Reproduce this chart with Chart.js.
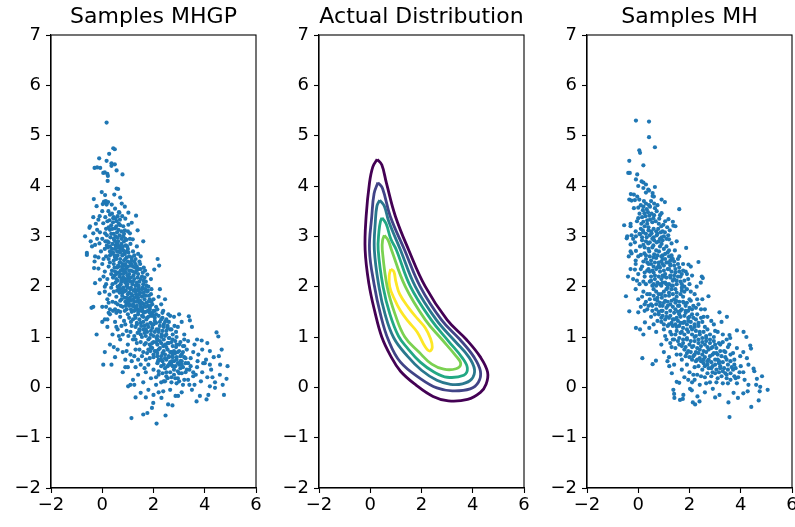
<!DOCTYPE html>
<html>
<head>
<meta charset="utf-8">
<script src="https://cdn.jsdelivr.net/npm/chart.js@4.4.1/dist/chart.umd.min.js"></script>
<style>
  html, body { margin: 0; padding: 0; background: #fff; overflow: hidden; }
  body { width: 795px; height: 527px; position: relative; }
  canvas { position: absolute; top: 0; }
</style>
</head>
<body>
<canvas id="chartMHGP" width="264" height="527" style="left:0px"></canvas>
<canvas id="chartActual" width="264" height="527" style="left:268px"></canvas>
<canvas id="chartMH" width="264" height="527" style="left:536px"></canvas>
<script>
// subplot titles and axis ticks
const titles = ["Samples MHGP", "Actual Distribution", "Samples MH"];
const xTicks = [-2, 0, 2, 4, 6];
const yTicks = [-2, -1, 0, 1, 2, 3, 4, 5, 6, 7];

// samples from the MHGP sampler
const samplesMHGP = [
  [0.17,5.26],[0.43,4.75],[0.49,4.73],[0.27,4.64],[-0.12,4.55],[0.17,4.5],[0.36,4.45],[0.49,4.43],[0.36,4.4],[-0.3,4.36],
  [-0.2,4.37],[-0.08,4.36],[0.56,4.31],[0.1,4.27],[0.2,4.24],[0.04,4.26],[0.79,4.23],[0.22,4.2],
  [0.21,4.1],[0.56,3.95],[0.62,3.94],[-0.02,3.88],[0.11,3.82],[0.47,3.83],[-0.33,3.74],[0.7,3.77],[0.76,3.65],[0.02,3.64],
  [0.11,3.67],[0.17,3.63],[0.37,3.63],[-0.22,3.6],[0.5,3.55],[0.67,3.47],[1.02,3.47],[0.24,3.5],[0.88,3.59],[0.07,3.69],
  [0.14,3.7],[0.23,3.68],
  [0.3,3.43],[-0.35,3.38],[1.32,3.41],[-0.15,3.33],[0.04,3.26],[0.43,3.36],[0.56,3.3],[0.69,3.33],[-0.5,3.17],[-0.35,3.06],
  [-0.67,3.0],[-0.2,3.13],[-0.09,3.08],[0.11,3.06],[0.3,3.13],[0.5,3.16],[0.63,3.13],[0.82,3.2],[1.02,3.23],[1.15,3.27],
  [1.38,3.12],[1.08,3.06],[0.82,3.0],[-0.48,3.2],[0.6,3.4],[0.35,3.22],[0.75,3.1],[0.2,3.3],[0.9,3.35],[0.45,3.05],
  [-0.1,3.4],[0.55,3.2],[0.65,3.48],[0.15,3.15],[1.0,3.1],[0.38,3.45],[-0.25,3.25],
  [0.12,3.38],[0.28,3.32],[0.42,3.28],[0.52,3.35],[0.7,3.22],[0.78,3.4],[0.25,3.18],[0.4,3.15],[0.58,3.08],[0.68,3.02],
  [0.88,3.12],[0.18,3.02],[0.32,2.98],[0.48,2.92],[0.62,2.9],[0.75,2.85],[0.9,2.95],[0.22,2.78],[0.38,2.75],[0.52,2.82],
  [0.67,2.8],[0.82,2.72],[0.97,2.8],[0.3,2.62],[0.42,2.68],[0.58,2.7],[0.72,2.75],[0.88,2.65],[1.02,2.68],[0.6,2.62],
  [0.35,3.05],[0.52,3.0],[0.12,2.9],[0.45,3.38],[0.85,3.05],[0.65,3.25],[0.25,2.88],[0.78,2.78],[0.95,2.58],[0.5,2.58],
  [-0.6,2.67],[-0.28,2.83],[-0.11,2.86],[1.19,2.94],[0.95,2.93],[-0.6,2.63],[-0.28,2.6],[1.6,2.9],[0.0,2.95],[0.1,2.75],
  [0.2,2.9],[0.3,2.8],[0.35,2.65],[0.45,2.95],[0.5,2.75],[0.55,2.6],[0.6,2.85],[0.65,2.7],[0.7,2.55],[0.75,2.95],
  [0.8,2.8],[0.85,2.65],[0.9,2.55],[1.0,2.75],[1.05,2.6],[1.1,2.85],[1.2,2.7],[1.3,2.55],[1.4,2.65],[1.5,2.6],
  [0.15,2.6],[0.25,2.55],[-0.05,2.7],[-0.2,2.95],[0.4,2.85],[0.6,2.97],[0.7,2.68],[0.95,2.7],[1.15,2.52],[1.35,2.8],
  [0.05,2.55],[0.45,2.52],[0.55,2.88],[0.85,2.9],[1.25,2.62],[-0.4,2.8],[0.3,2.7],[0.62,2.78],[0.78,2.62],[1.08,2.95],
  [0.18,2.82],[-0.15,2.58],[0.48,2.62],[0.92,2.82],[1.45,2.5],[0.0,3.5],[-0.3,2.5],[-0.45,2.9],
  [2.16,2.55],[2.22,2.42],[2.03,2.34],[1.67,2.32],[1.76,2.24],[-0.32,2.37],[-0.15,2.36],[-0.28,2.07],[-0.09,2.14],[0.0,2.45],
  [0.1,2.3],[0.2,2.15],[0.25,2.4],[0.35,2.25],[0.4,2.05],[0.45,2.45],[0.5,2.3],[0.55,2.15],[0.6,2.0],[0.65,2.4],
  [0.7,2.25],[0.75,2.1],[0.8,2.45],[0.85,2.3],[0.9,2.15],[0.95,2.02],[1.0,2.4],[1.05,2.25],[1.1,2.1],[1.15,2.45],
  [1.2,2.3],[1.25,2.15],[1.3,2.02],[1.35,2.4],[1.4,2.25],[1.45,2.1],[1.5,2.35],[1.55,2.2],[1.6,2.05],[1.7,2.1],
  [1.8,2.0],[1.9,2.15],[0.3,2.48],[0.58,2.38],[0.72,2.05],[0.88,2.42],[1.02,2.18],[1.18,2.05],[1.28,2.38],[0.42,2.18],
  [0.62,2.28],[0.78,2.35],[0.92,2.28],[1.12,2.32],[1.38,2.18],[0.15,2.05],[0.05,2.2],[0.52,2.08],[0.68,2.48],[0.98,2.12],
  [1.22,2.22],[1.48,2.45],[0.82,2.18],[1.08,2.48],[0.38,2.32],[1.62,2.38],[1.42,2.02],[0.48,2.22],[0.72,2.32],[0.95,2.38],
  [0.55,2.55],[0.7,2.48],[0.85,2.52],[1.0,2.5],[1.15,2.58],[1.3,2.45],[0.48,2.38],[0.62,2.42],[0.78,2.4],[0.92,2.35],
  [1.05,2.32],[1.2,2.4],[1.35,2.32],[0.55,2.25],[0.68,2.2],[0.82,2.25],[0.98,2.22],[1.12,2.18],[1.28,2.28],[1.42,2.35],
  [1.58,2.28],[0.6,2.12],[0.75,2.15],[0.9,2.08],[1.05,2.12],[1.2,2.1],[1.35,2.08],[1.5,2.15],[1.65,2.18],[0.68,2.02],
  [0.82,1.98],[0.98,2.05],[1.12,1.98],[1.28,1.95],[1.42,1.92],[1.58,1.98],[1.72,2.02],[0.78,1.88],[0.92,1.92],[1.05,1.88],
  [1.18,1.82],[1.32,1.85],[1.48,1.88],[1.62,1.88],[1.78,1.92],[0.88,1.78],[1.0,1.75],[1.12,1.72],[1.25,1.7],[1.4,1.78],
  [1.55,1.8],[1.7,1.82],[1.85,1.75],[1.05,1.62],[1.2,1.65],[1.35,1.62],[1.5,1.6],[1.62,1.65],[1.78,1.62],[1.92,1.7],
  [0.95,1.68],[1.45,1.68],[0.72,1.95],[1.25,2.5],[0.9,2.45],[1.62,2.12],[1.38,1.72],[1.1,2.42],[0.85,2.12],[1.3,1.55],
  [-0.42,1.58],[-0.11,1.87],[0.28,1.84],[-0.35,1.6],[0.0,1.6],[0.15,1.6],[0.2,1.75],[0.3,1.55],[0.4,1.7],[0.45,1.9],
  [0.5,1.55],[0.55,1.8],[0.6,1.65],[0.65,1.95],[0.7,1.5],[0.75,1.75],[0.8,1.6],[0.85,1.9],[0.9,1.7],[0.95,1.55],
  [1.0,1.85],[1.05,1.65],[1.1,1.95],[1.15,1.5],[1.2,1.75],[1.25,1.6],[1.3,1.9],[1.35,1.7],[1.4,1.55],[1.45,1.85],
  [1.5,1.65],[1.55,1.95],[1.6,1.5],[1.65,1.75],[1.7,1.6],[1.75,1.9],[1.8,1.7],[1.85,1.55],[1.9,1.85],[1.95,1.65],
  [2.0,1.75],[2.1,1.6],[2.2,1.8],[2.3,1.65],[2.45,1.75],[0.35,1.98],[0.62,1.52],[0.78,1.82],[0.92,1.62],[1.08,1.78],
  [1.22,1.92],[1.32,1.58],[1.48,1.72],[1.62,1.82],[1.78,1.52],[0.52,1.68],[0.68,1.88],[0.98,1.98],[1.18,1.62],[1.42,1.98],
  [1.58,1.58],[1.72,1.68],[0.88,1.52],[1.02,1.7],[1.28,1.78],[0.82,1.95],[0.72,1.62],[1.12,1.55],[1.38,1.82],[1.52,1.52],
  [1.68,1.95],[1.88,1.62],[0.58,1.92],[0.42,1.52],[1.92,1.95],[2.05,1.52],[2.25,1.95],[0.25,1.68],[0.1,1.9],[1.15,1.85],
  [0.95,1.78],[1.55,1.68],[0.7,1.72],[2.38,1.52],[1.82,1.82],[0.1,2.0],
  [1.25,1.52],[1.4,1.5],[1.55,1.55],[1.7,1.5],[1.85,1.58],[2.0,1.52],[2.15,1.55],[1.3,1.38],[1.45,1.35],[1.6,1.4],
  [1.75,1.38],[1.9,1.42],[2.05,1.38],[2.2,1.42],[2.35,1.38],[1.35,1.25],[1.5,1.28],[1.65,1.22],[1.8,1.2],[1.95,1.25],
  [2.1,1.28],[2.25,1.3],[2.4,1.25],[2.55,1.22],[1.45,1.12],[1.6,1.15],[1.75,1.1],[1.9,1.12],[2.05,1.1],[2.2,1.15],
  [2.35,1.12],[2.5,1.12],[2.65,1.15],[1.55,1.0],[1.7,1.02],[1.85,0.98],[2.0,1.02],[2.15,0.95],[2.3,1.0],[2.45,1.02],
  [2.6,0.98],[2.75,0.95],[2.9,1.0],[1.7,0.88],[1.85,0.85],[2.0,0.9],[2.15,0.85],[2.3,0.88],[2.45,0.85],[2.6,0.88],
  [2.75,0.82],[2.9,0.85],[3.05,0.9],[1.8,0.75],[1.95,0.78],[2.1,0.72],[2.25,0.78],[2.4,0.72],[2.55,0.75],[2.7,0.7],
  [2.85,0.68],[3.0,0.72],[3.15,0.7],[2.0,0.65],[2.15,0.68],[2.3,0.62],[2.45,0.65],[2.6,0.62],[2.75,0.65],[2.9,0.6],
  [3.05,0.62],[3.2,0.6],[2.2,0.55],[2.35,0.52],[2.5,0.55],[2.65,0.5],[2.8,0.52],[2.95,0.48],[3.1,0.52],[3.25,0.48],
  [2.4,0.45],[2.55,0.42],[2.7,0.45],[2.85,0.42],[3.0,0.45],[3.15,0.4],[1.95,1.48],[2.5,1.35],[2.82,1.22],[3.2,0.82],
  [-0.22,1.05],[3.38,1.41],[3.42,1.33],[0.1,1.35],[0.2,1.2],[0.3,1.45],[0.4,1.05],[0.5,1.3],[0.6,1.15],[0.7,1.4],
  [0.8,1.05],[0.9,1.25],[1.0,1.45],[1.1,1.1],[1.2,1.35],[1.3,1.2],[1.4,1.45],[1.5,1.05],[1.6,1.3],[1.7,1.15],
  [1.8,1.4],[1.9,1.05],[2.0,1.25],[2.1,1.45],[2.2,1.1],[2.3,1.35],[2.4,1.2],[2.5,1.05],[2.6,1.3],[2.7,1.15],
  [2.8,1.4],[2.95,1.2],[3.1,1.3],[3.2,1.05],[0.85,1.32],[0.95,1.12],[1.05,1.38],[1.15,1.22],[1.25,1.02],[1.35,1.28],
  [1.45,1.15],[1.55,1.42],[1.65,1.08],[1.75,1.25],[1.85,1.48],[1.95,1.18],[2.05,1.32],[2.15,1.02],[2.25,1.22],[2.35,1.48],
  [2.45,1.3],[2.55,1.18],[2.65,1.42],[2.75,1.05],[0.55,1.48],[0.75,1.22],[1.62,1.48],[1.88,1.28],[2.12,1.15],[2.32,1.05],
  [2.58,1.45],[1.38,1.08],[1.02,1.02],[0.65,1.02],[0.25,1.48],[0.0,1.3],[3.0,1.45],[2.88,1.1],[1.72,1.35],[1.52,1.22],
  [1.98,1.42],[1.28,1.42],[1.12,1.3],[0.2,1.35],[0.55,1.2],[1.3,0.95],[3.5,1.2],[3.7,0.95],
  [3.88,0.93],[4.46,1.09],[4.53,1.01],[4.66,0.75],[0.1,0.7],[0.3,0.85],[0.5,0.6],[0.7,0.95],[0.8,0.7],[0.9,0.55],
  [1.0,0.85],[1.1,0.65],[1.2,0.95],[1.3,0.75],[1.4,0.55],[1.5,0.9],[1.6,0.7],[1.7,0.55],[1.8,0.95],[1.9,0.8],
  [2.0,0.6],[2.1,0.9],[2.2,0.75],[2.3,0.55],[2.4,0.95],[2.5,0.8],[2.6,0.6],[2.7,0.9],[2.8,0.72],[2.9,0.55],
  [3.0,0.85],[3.1,0.65],[3.2,0.95],[3.3,0.75],[3.45,0.58],[3.6,0.85],[3.75,0.65],[3.9,0.75],[4.05,0.55],[4.2,0.72],
  [4.35,0.6],[4.55,0.62],[1.65,0.85],[1.75,0.68],[1.85,0.58],[1.95,0.88],[2.05,0.72],[2.15,0.62],[2.25,0.92],[2.35,0.68],
  [2.45,0.58],[2.55,0.88],[2.65,0.7],[2.75,0.6],[2.85,0.92],[2.95,0.7],[3.05,0.52],[1.55,0.62],[1.35,0.88],[1.15,0.52],
  [2.12,0.98],[2.62,0.98],[3.15,0.82],[3.35,0.92],[3.55,0.7],[0.6,0.75],[0.95,0.72],[1.25,0.62],[3.72,0.52],[4.1,0.88],
  [2.38,0.82],[2.88,0.8],[1.45,0.75],[1.88,0.72],[2.18,0.52],[2.72,0.52],[3.25,0.58],[0.45,0.8],[0.9,0.4],
  [0.04,0.45],[0.36,0.45],[3.94,0.48],[4.0,0.48],[4.89,0.42],[4.59,0.25],[4.85,0.17],[0.8,0.3],[1.0,0.4],[1.2,0.15],
  [1.3,0.4],[1.4,0.25],[1.5,0.45],[1.6,0.1],[1.7,0.3],[1.8,0.45],[1.9,0.18],[2.0,0.35],[2.1,0.05],[2.2,0.25],
  [2.3,0.42],[2.4,0.12],[2.5,0.3],[2.6,0.45],[2.7,0.2],[2.8,0.35],[2.9,0.08],[3.0,0.28],[3.1,0.45],[3.2,0.15],
  [3.3,0.35],[3.4,0.05],[3.55,0.22],[3.7,0.4],[3.85,0.12],[4.1,0.2],[4.25,0.35],[4.4,0.1],[4.7,0.05],[2.15,0.48],
  [2.45,0.38],[2.75,0.42],[3.05,0.38],[3.35,0.48],[2.55,0.18],[2.95,0.18],[1.65,0.38],[3.6,0.05],[4.2,0.02],[1.1,0.05],
  [1.01,0.02],[1.25,0.05],[4.2,0.45],[4.6,0.45],[3.9,0.3],[4.3,0.2],
  [2.2,0.32],[2.35,0.28],[2.5,0.22],[2.65,0.3],[2.8,0.25],[2.95,0.32],[3.1,0.28],[3.25,0.3],[3.4,0.35],[2.45,0.12],
  [2.7,0.1],[2.85,0.18],[3.0,0.12],[3.15,0.05],[3.35,0.15],[3.55,0.3],[2.1,0.2],[2.3,0.1],[3.45,0.42],[3.65,0.25],
  [1.14,-0.61],[1.6,-0.54],[1.76,-0.51],[2.12,-0.72],[2.47,-0.56],[1.94,-0.41],[1.99,-0.31],[2.57,-0.34],[2.74,-0.36],[2.31,-0.21],
  [2.38,-0.08],[2.86,-0.17],[2.96,-0.17],[1.5,-0.11],[3.68,-0.28],[4.07,-0.24],[4.14,-0.15],[3.81,-0.17],[4.75,-0.15],[4.4,-0.01],
  [1.8,-0.05],[2.0,-0.15],[2.65,-0.05],[3.1,-0.1],[3.5,-0.05],[1.3,-0.2],[1.7,-0.2],[2.2,-0.1]
];

// samples from the plain MH sampler
const samplesMH = [
  [-0.09,5.3],[0.42,5.28],[0.42,4.97],[0.65,4.77],[0.07,4.66],[0.04,4.71],[-0.35,4.5],[0.2,4.41],[-0.39,4.26],[-0.33,4.26],
  [-0.04,4.23],[-0.09,4.13],[0.13,4.09],[0.2,4.07],[0.3,4.03],[0.0,4.0],[0.65,3.98],[0.39,3.93],[0.2,3.96],[0.42,3.91],
  [-0.29,3.84],[-0.17,3.83],[0.3,3.87],[0.56,3.86],[0.61,3.79],[-0.04,3.79],[0.04,3.73],[-0.35,3.73],[-0.26,3.71],[0.91,3.73],
  [1.04,3.68],[1.6,3.54],[-0.13,3.72],[0.56,3.8],[0.1,3.62],[0.3,3.65],[0.5,3.7],[0.75,3.62],
  [-0.17,3.56],[0.0,3.57],[0.2,3.59],[0.33,3.54],[0.46,3.59],[0.65,3.56],[0.24,3.46],[0.43,3.41],[0.59,3.36],[0.85,3.42],
  [0.91,3.46],[1.18,3.34],[1.35,3.29],[-0.55,3.22],[-0.3,3.25],[-0.3,3.2],[0.0,3.36],[0.2,3.29],[0.35,3.25],[0.46,3.33],
  [0.98,3.23],[1.13,3.18],[1.23,3.12],[1.37,3.21],[1.45,3.2],[-0.43,3.0],[-0.45,2.96],[-0.26,3.02],[-0.09,3.0],[0.07,3.04],
  [0.2,3.08],[0.33,2.98],[0.52,3.06],[0.72,3.02],[0.91,2.98],[1.04,3.08],[1.17,3.02],[0.6,3.15],[0.8,3.25],[0.1,3.15],
  [-0.1,3.1],[0.4,3.12],
  [0.05,3.45],[0.15,3.38],[0.28,3.4],[0.38,3.48],[0.52,3.45],[0.62,3.42],[0.72,3.5],[0.12,3.25],[0.25,3.2],[0.4,3.18],
  [0.55,3.28],[0.68,3.3],[0.78,3.15],[0.9,3.2],[0.05,3.05],[0.18,3.12],[0.3,3.05],[0.45,3.02],[0.6,2.98],[0.75,3.05],
  [0.88,3.08],[1.0,3.0],[0.15,2.98],[0.3,2.9],[0.45,2.88],[0.62,2.92],[0.8,2.9],[0.95,2.92],[1.1,2.95],[0.35,3.32],
  [0.18,3.52],[0.42,3.62],[0.62,3.65],[0.82,3.35],[0.22,3.7],[1.05,3.3],[0.5,3.1],[0.7,3.1],[-0.05,3.3],[0.95,3.1],
  [1.87,2.77],[-0.37,2.6],[-0.3,2.84],[-0.13,2.88],[0.07,2.8],[0.2,2.83],[0.39,2.86],[0.59,2.82],[0.72,2.88],[0.91,2.85],
  [1.1,2.8],[1.3,2.86],[-0.26,2.66],[-0.09,2.71],[0.1,2.63],[0.24,2.66],[0.43,2.7],[0.62,2.64],[0.81,2.7],[0.95,2.62],
  [1.15,2.68],[1.3,2.62],[1.43,2.72],[1.6,2.6],[0.3,2.55],[0.5,2.52],[0.7,2.57],[0.9,2.5],[1.05,2.55],[1.25,2.52],
  [-0.1,2.52],[0.15,2.92],[0.55,2.95],[0.85,2.95],[1.2,2.94],[1.5,2.9],[-0.2,2.95],[0.0,2.6],[-0.3,2.7],
  [0.25,2.78],[0.4,2.75],[0.55,2.78],[0.7,2.72],[0.85,2.8],[1.0,2.75],[1.2,2.72],[0.3,2.62],[0.45,2.6],[0.6,2.58],
  [0.75,2.62],[0.9,2.6],[1.05,2.65],[1.2,2.6],[1.35,2.55],[0.35,2.48],[0.5,2.45],[0.65,2.48],[0.8,2.42],[0.95,2.45],
  [1.1,2.48],[1.25,2.45],[1.4,2.5],[0.4,2.35],[0.55,2.32],[0.7,2.35],[0.85,2.38],[1.0,2.32],[1.15,2.35],[1.3,2.3],
  [1.45,2.35],[1.6,2.3],[0.5,2.2],[0.65,2.15],[0.8,2.2],[0.95,2.22],[1.1,2.18],[1.25,2.22],[1.4,2.15],[1.55,2.2],
  [1.7,2.25],[0.6,2.05],[0.75,2.08],[0.9,2.02],[1.05,2.08],[1.2,2.05],[1.35,2.02],[1.5,2.05],[1.65,2.1],[1.8,2.0],
  [0.2,2.5],[0.1,2.35],[0.95,2.55],[1.55,2.55],[1.75,2.45],[0.25,2.28],[1.9,2.25],[2.0,2.05],[0.45,2.1],[1.3,2.58],
  [2.35,2.49],[2.48,2.2],[2.28,2.0],[-0.3,2.35],[-0.2,2.15],[-0.1,2.45],[0.0,2.25],[0.05,2.05],[0.15,2.4],[0.25,2.2],
  [0.3,2.05],[0.4,2.45],[0.45,2.3],[0.5,2.12],[0.6,2.4],[0.65,2.22],[0.7,2.02],[0.8,2.48],[0.85,2.3],[0.9,2.15],
  [1.0,2.42],[1.05,2.25],[1.1,2.05],[1.2,2.35],[1.25,2.18],[1.3,2.02],[1.4,2.42],[1.45,2.28],[1.5,2.12],[1.6,2.38],
  [1.65,2.2],[1.7,2.05],[1.85,2.3],[1.95,2.15],[2.05,2.4],[2.1,2.22],[0.35,2.32],[0.55,2.02],[0.75,2.38],[0.95,2.08],
  [1.15,2.48],[1.35,2.12],[1.55,2.45],[1.75,2.32],[0.2,2.1],[1.0,2.2],[0.6,2.28],[1.4,2.22],[-0.05,2.12],[1.8,2.12],
  [0.85,2.05],[1.25,2.42],[-0.13,2.34],[1.96,2.44],[2.52,2.17],[2.44,2.08],[-0.4,2.2],
  [-0.48,1.81],[-0.35,1.51],[2.74,1.81],[3.17,1.49],[-0.1,1.95],[0.0,1.75],[0.1,1.6],[0.2,1.9],[0.3,1.7],[0.35,1.55],
  [0.45,1.85],[0.5,1.65],[0.6,1.95],[0.65,1.75],[0.7,1.55],[0.8,1.85],[0.85,1.68],[0.9,1.52],[1.0,1.9],[1.05,1.72],
  [1.1,1.58],[1.2,1.82],[1.25,1.65],[1.3,1.95],[1.4,1.75],[1.45,1.55],[1.5,1.88],[1.6,1.7],[1.65,1.52],[1.75,1.8],
  [1.85,1.62],[1.9,1.95],[2.0,1.75],[2.1,1.55],[2.2,1.85],[2.35,1.65],[2.5,1.75],[2.6,1.55],[0.25,1.52],[0.55,1.52],
  [0.75,1.72],[0.95,1.62],[1.15,1.98],[1.35,1.6],[1.55,1.62],[1.7,1.92],[1.95,1.52],[2.05,1.9],[0.4,1.62],[0.15,1.8],
  [1.15,1.7],[0.7,1.9],[1.78,1.68],[2.25,1.58],[1.48,1.72],[0.92,1.78],
  [0.6,1.82],[0.75,1.78],[0.9,1.85],[1.05,1.82],[1.2,1.88],[1.35,1.85],[1.5,1.8],[1.65,1.85],[1.8,1.9],[0.7,1.65],
  [0.85,1.62],[1.0,1.68],[1.15,1.62],[1.3,1.72],[1.45,1.68],[1.6,1.62],[1.75,1.7],[1.9,1.68],[2.05,1.72],[0.8,1.5],
  [0.95,1.52],[1.1,1.48],[1.25,1.52],[1.4,1.48],[1.55,1.5],[1.7,1.55],[1.85,1.52],[2.0,1.58],[2.15,1.62],[0.9,1.38],
  [1.05,1.35],[1.2,1.38],[1.35,1.35],[1.5,1.38],[1.65,1.4],[1.8,1.42],[1.95,1.38],[2.1,1.45],[2.25,1.35],[1.0,1.25],
  [1.15,1.22],[1.3,1.28],[1.45,1.25],[1.6,1.22],[1.75,1.28],[1.9,1.25],[2.05,1.3],[2.2,1.2],[2.35,1.28],[0.55,1.62],
  [0.45,1.75],[1.1,1.95],[1.45,1.95],[2.3,1.75],[2.45,1.55],[0.65,1.45],[0.35,1.85],[2.55,1.4],[1.7,1.98],[0.25,1.65],
  [-0.09,1.18],[0.07,1.15],[0.0,1.49],[0.26,1.29],[0.43,1.18],[3.46,1.4],[3.85,1.13],[4.11,1.1],[4.22,1.0],[3.56,1.04],
  [0.2,1.05],[0.5,1.4],[0.6,1.25],[0.7,1.1],[0.8,1.45],[0.9,1.3],[1.0,1.15],[1.1,1.4],[1.2,1.25],[1.3,1.05],
  [1.4,1.35],[1.5,1.2],[1.6,1.45],[1.7,1.1],[1.8,1.3],[1.9,1.15],[2.0,1.4],[2.1,1.05],[2.2,1.25],[2.3,1.45],
  [2.4,1.1],[2.5,1.3],[2.6,1.2],[2.7,1.4],[2.8,1.05],[2.95,1.25],[3.1,1.1],[3.25,1.3],[1.05,1.02],[1.25,1.42],
  [1.45,1.05],[1.65,1.28],[1.85,1.48],[2.05,1.2],[2.25,1.02],[2.45,1.38],[2.65,1.02],[1.75,1.18],[1.95,1.32],[2.15,1.38],
  [1.35,1.22],[0.95,1.42],[2.35,1.22],[1.55,1.32],[2.85,1.32],[0.75,1.32],[3.59,0.98],
  [1.5,1.12],[1.65,1.08],[1.8,1.05],[1.95,1.1],[2.1,1.15],[2.25,1.12],[2.4,1.05],[2.55,1.1],[2.7,1.15],[1.6,0.98],
  [1.75,0.95],[1.9,0.98],[2.05,0.92],[2.2,1.0],[2.35,0.95],[2.5,0.98],[2.65,0.92],[2.8,0.88],[2.95,1.0],[1.7,0.82],
  [1.85,0.8],[2.0,0.85],[2.15,0.82],[2.3,0.78],[2.45,0.82],[2.6,0.85],[2.75,0.75],[2.9,0.8],[3.05,0.78],[3.2,0.85],
  [1.9,0.68],[2.05,0.7],[2.2,0.65],[2.35,0.68],[2.5,0.65],[2.65,0.7],[2.8,0.62],[2.95,0.68],[3.1,0.65],[3.25,0.62],
  [3.4,0.7],[2.1,0.55],[2.25,0.52],[2.4,0.58],[2.55,0.55],[2.7,0.52],[2.85,0.5],[3.0,0.55],[3.15,0.52],[3.3,0.5],
  [3.45,0.55],[3.6,0.65],[1.35,0.95],[1.45,0.78],[1.25,1.1],[3.0,1.12],[3.3,1.05],[3.55,0.85],[3.75,0.55],[1.65,0.65],
  [0.16,0.58],[3.85,0.78],[3.98,0.62],[4.24,0.58],[4.37,0.83],[4.4,0.77],[0.69,0.53],[1.14,0.52],[0.9,0.85],[1.0,0.7],
  [1.1,0.95],[1.2,0.6],[1.3,0.8],[1.4,0.95],[1.5,0.65],[1.6,0.85],[1.7,0.55],[1.8,0.75],[1.9,0.95],[2.0,0.6],
  [2.1,0.8],[2.2,0.92],[2.3,0.55],[2.4,0.75],[2.5,0.9],[2.6,0.6],[2.7,0.8],[2.8,0.95],[2.9,0.65],[3.0,0.85],
  [3.1,0.55],[3.2,0.72],[3.3,0.9],[3.4,0.6],[3.5,0.8],[3.6,0.52],[3.7,0.68],[1.55,0.92],[1.75,0.88],[1.95,0.72],
  [2.15,0.62],[2.35,0.88],[2.55,0.72],[2.75,0.55],[2.95,0.92],[3.15,0.88],[3.35,0.72],[1.25,0.88],[2.45,0.52],[2.65,0.98],
  [3.05,0.68],[2.25,0.7],[1.85,0.62],[2.85,0.78],[3.45,0.95],[4.1,0.7],
  [0.56,0.46],[1.21,0.42],[1.31,0.28],[1.6,0.09],[4.5,0.37],[4.53,0.32],[4.83,0.22],[4.63,0.17],[4.76,0.01],[1.5,0.11],
  [1.4,0.45],[1.7,0.35],[1.8,0.2],[1.9,0.45],[2.0,0.3],[2.1,0.1],[2.2,0.4],[2.3,0.25],[2.4,0.05],[2.5,0.35],
  [2.6,0.2],[2.7,0.45],[2.8,0.1],[2.9,0.3],[3.0,0.45],[3.1,0.18],[3.2,0.38],[3.3,0.08],[3.4,0.28],[3.5,0.45],
  [3.6,0.15],[3.7,0.35],[3.8,0.18],[3.9,0.2],[4.0,0.42],[4.15,0.15],[4.3,0.05],[2.15,0.25],[2.55,0.48],[2.85,0.38],
  [3.15,0.48],[3.45,0.18],[3.75,0.45],[2.35,0.42],[1.95,0.15],[3.25,0.22],
  [2.6,0.42],[2.75,0.38],[2.9,0.42],[3.05,0.35],[3.2,0.42],[3.35,0.38],[3.5,0.35],[3.65,0.4],[3.8,0.38],[2.7,0.28],
  [2.85,0.22],[3.0,0.28],[3.15,0.3],[3.3,0.32],[3.45,0.25],[3.6,0.28],[3.75,0.22],[3.95,0.3],[2.45,0.22],[2.2,0.15],
  [2.65,0.08],[3.05,0.1],[3.5,0.08],[3.85,0.08],[4.1,0.3],[4.3,0.45],[4.6,0.05],
  [5.05,-0.05],[4.74,-0.08],[4.7,-0.26],[4.41,-0.39],[4.27,-0.08],[3.89,-0.21],[3.72,-0.11],[3.52,-0.3],[3.56,-0.59],[3.17,-0.15],
  [2.91,-0.03],[2.39,-0.28],[2.31,-0.18],[2.13,-0.3],[2.22,-0.34],[2.02,-0.03],[2.09,-0.06],[1.76,-0.15],[1.74,-0.23],[1.63,-0.25],
  [1.41,-0.21],[1.37,-0.05],[1.4,-0.13],[2.6,-0.1],[3.0,-0.2],[4.1,-0.12]
];

// contour lines of the true density, one closed path per level (outer -> inner)
const contourLevel1 = [[0.27,4.53],[0.45,4.42],[0.63,4.06],[0.98,3.4],[1.5,2.73],[2.15,2.0],[3.0,1.34],[3.75,0.95],[4.3,0.6],
  [4.58,0.3],[4.52,0.06],[4.3,-0.1],[3.8,-0.24],[3.05,-0.27],[2.45,-0.18],[1.8,0.04],[1.18,0.32],[0.8,0.62],[0.45,1.0],
  [0.18,1.5],[-0.05,2.05],[-0.2,2.73],[-0.16,3.4],[-0.03,4.06],[0.1,4.38],[0.27,4.53]];
const contourLevel2 = [[0.3,4.07],[0.48,3.95],[0.78,3.4],[1.34,2.73],[1.95,2.0],[2.78,1.34],[3.5,0.95],[4.05,0.6],[4.3,0.32],
  [4.22,0.1],[3.9,-0.03],[3.2,-0.07],[2.6,-0.01],[2.0,0.16],[1.18,0.5],[0.7,0.95],[0.4,1.45],[0.15,2.05],[-0.03,2.73],
  [0.06,3.4],[0.15,3.85],[0.3,4.07]];
const contourLevel3 = [[0.37,3.72],[0.55,3.6],[0.72,3.3],[1.18,2.73],[1.76,2.0],[2.58,1.34],[3.3,0.92],[3.85,0.6],[4.07,0.35],
  [3.95,0.16],[3.6,0.07],[3.13,0.06],[2.6,0.14],[2.0,0.34],[1.45,0.62],[0.92,0.98],[0.58,1.45],[0.34,2.0],[0.16,2.73],
  [0.2,3.3],[0.26,3.6],[0.37,3.72]];
const contourLevel4 = [[0.46,3.37],[0.62,3.25],[0.8,2.95],[1.02,2.73],[1.57,2.0],[2.38,1.34],[3.05,0.92],[3.6,0.58],[3.79,0.38],
  [3.65,0.24],[3.0,0.2],[2.5,0.3],[1.95,0.5],[1.45,0.78],[1.1,1.02],[0.77,1.45],[0.5,2.0],[0.31,2.73],[0.34,3.1],
  [0.4,3.3],[0.46,3.37]];
const contourLevel5 = [[0.55,3.02],[0.7,2.92],[0.83,2.73],[1.37,2.0],[2.15,1.34],[2.8,0.95],[3.35,0.62],[3.53,0.47],[3.35,0.37],
  [2.87,0.36],[2.4,0.46],[1.9,0.7],[1.35,1.0],[0.97,1.45],[0.66,2.0],[0.47,2.73],[0.48,2.92],[0.55,3.02]];
const contourLevel6 = [[0.8,2.35],[0.92,2.3],[1.0,2.1],[1.15,1.85],[1.5,1.58],[1.85,1.36],[2.15,1.18],[2.35,0.97],[2.42,0.8],
  [2.32,0.72],[2.15,0.8],[1.83,1.1],[1.5,1.3],[1.18,1.52],[0.92,1.78],[0.76,2.0],[0.74,2.22],[0.8,2.35]];
const contourLevels = [contourLevel1, contourLevel2, contourLevel3, contourLevel4, contourLevel5, contourLevel6];
const contourColors = ["#440154", "#414487", "#2a788e", "#22a884", "#7ad151", "#fde725"];

const FONT = "'DejaVu Sans', 'Liberation Sans', sans-serif";
const toXY = arr => arr.map(p => ({ x: p[0], y: p[1] }));
const fmt = v => (v < 0 ? "\u2212" + Math.abs(v) : String(v));

// draws the top and right spines like matplotlib
const framePlugin = {
  id: "frame",
  afterDraw(chart) {
    const a = chart.chartArea, c = chart.ctx;
    c.save();
    c.strokeStyle = "#000";
    c.lineWidth = 1.1;
    c.strokeRect(a.left, a.top, a.right - a.left, a.bottom - a.top);
    c.restore();
  }
};

function makeOptions(title) {
  return {
    responsive: false,
    animation: false,
    devicePixelRatio: 1,
    layout: { padding: { left: 0, right: 8, top: 0, bottom: 0 } },
    plugins: {
      legend: { display: false },
      tooltip: { enabled: false },
      title: {
        display: true,
        text: title,
        fullSize: false,
        color: "#000",
        font: { family: FONT, size: 22, weight: "normal", lineHeight: 1.2 },
        padding: { top: 4, bottom: 4.6 }
      }
    },
    scales: {
      x: {
        type: "linear",
        min: xTicks[0], max: xTicks[xTicks.length - 1],
        afterBuildTicks: s => { s.ticks = xTicks.map(v => ({ value: v })); },
        afterFit: s => { s.height = 39; },
        ticks: { color: "#000", font: { family: FONT, size: 18 }, padding: 2, maxRotation: 0, callback: fmt },
        grid: { drawOnChartArea: false, color: "#000", tickLength: 5, tickWidth: 1.1 },
        border: { color: "#000", width: 1.1 }
      },
      y: {
        type: "linear",
        min: yTicks[0], max: yTicks[yTicks.length - 1],
        afterBuildTicks: s => { s.ticks = yTicks.map(v => ({ value: v })); },
        afterFit: s => { s.width = 51; },
        ticks: { color: "#000", font: { family: FONT, size: 18 }, padding: 5, callback: fmt },
        grid: { drawOnChartArea: false, color: "#000", tickLength: 5, tickWidth: 1.1 },
        border: { color: "#000", width: 1.1 }
      }
    }
  };
}

function scatterSet(points) {
  return {
    data: toXY(points),
    backgroundColor: "#1f77b4",
    borderWidth: 0,
    pointRadius: 2.1,
    pointHoverRadius: 2.1
  };
}

new Chart(document.getElementById("chartMHGP"), {
  type: "scatter",
  data: { datasets: [scatterSet(samplesMHGP)] },
  options: makeOptions(titles[0]),
  plugins: [framePlugin]
});

new Chart(document.getElementById("chartActual"), {
  type: "scatter",
  data: {
    datasets: contourLevels.map((lvl, i) => ({
      data: toXY(lvl),
      showLine: true,
      borderColor: contourColors[i],
      borderWidth: 2.8,
      tension: 0.4,
      pointRadius: 0,
      fill: false
    }))
  },
  options: makeOptions(titles[1]),
  plugins: [framePlugin]
});

new Chart(document.getElementById("chartMH"), {
  type: "scatter",
  data: { datasets: [scatterSet(samplesMH)] },
  options: makeOptions(titles[2]),
  plugins: [framePlugin]
});
</script>
</body>
</html>
